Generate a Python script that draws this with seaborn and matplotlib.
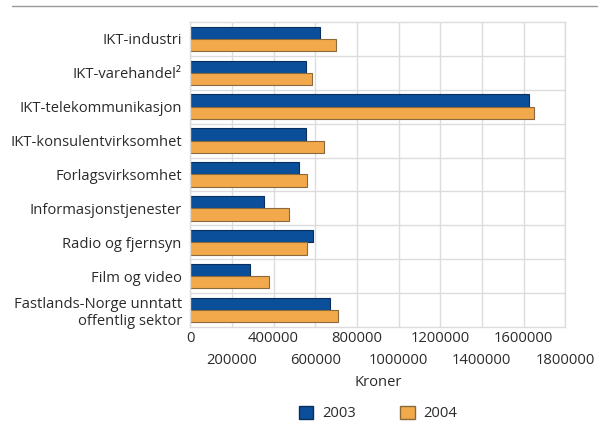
import matplotlib
matplotlib.use("Agg")
import matplotlib.pyplot as plt
import pandas as pd
import seaborn as sns
from matplotlib.patches import Patch

categories = [
    "IKT-industri",
    "IKT-varehandel²",
    "IKT-telekommunikasjon",
    "IKT-konsulentvirksomhet",
    "Forlagsvirksomhet",
    "Informasjonstjenester",
    "Radio og fjernsyn",
    "Film og video",
    "Fastlands-Norge unntatt\noffentlig sektor",
]
values_2003 = [623000, 556000, 1626000, 555000, 523000, 355000, 588000, 289000, 671000]
values_2004 = [700000, 587000, 1652000, 644000, 560000, 473000, 563000, 380000, 708000]
years = ["2003", "2004"]
upper_ticks = [0, 400000, 800000, 1200000, 1600000]
lower_ticks = [200000, 600000, 1000000, 1400000, 1800000]

sns.set_style("white")
plt.rcParams["font.family"] = ["Open Sans", "DejaVu Sans"]

df = pd.DataFrame({
    "kategori": categories * 2,
    "kroner": values_2003 + values_2004,
    "år": [years[0]] * len(categories) + [years[1]] * len(categories),
})

colors = {"2003": "#0b4f9b", "2004": "#f2a94c"}
edges = {"2003": "#0a2f5c", "2004": "#8a6a3a"}
fs = 10.6
txt = "#2a2a2a"

fig = plt.figure(figsize=(6.0, 4.22), dpi=100)
ax = fig.add_axes([0.317, 0.225, 0.625, 0.723])

sns.barplot(data=df, y="kategori", x="kroner", hue="år", palette=colors,
            orient="h", width=0.72, gap=0.0, saturation=1, legend=False, ax=ax)

for container, yr in zip(ax.containers, years):
    for bar in container:
        bar.set_edgecolor(edges[yr])
        bar.set_linewidth(0.8)

ax.set_xlim(0, 1800000)
ax.set_ylim(len(categories) - 0.5, -0.5)
ax.set_xticks(upper_ticks)
ax.set_xticklabels([str(v) for v in upper_ticks])
ax.set_xticks(lower_ticks, minor=True)
ax.set_xticklabels([str(v) for v in lower_ticks], minor=True)
ax.set_yticks(range(len(categories)))
ax.set_yticklabels(categories)
ax.tick_params(axis="both", which="both", length=0, labelsize=fs, colors=txt)
ax.tick_params(axis="x", which="major", pad=3)
ax.tick_params(axis="x", which="minor", pad=19)
ax.tick_params(axis="y", pad=6)
ax.set_xlabel("Kroner", fontsize=fs, color=txt, labelpad=5)
ax.set_ylabel("")

grid_c = "#dcdcdc"
ax.grid(axis="x", which="both", color=grid_c, linewidth=1.0)
for i in range(len(categories) - 1):
    ax.axhline(i + 0.5, color=grid_c, linewidth=1.0, zorder=0)
ax.set_axisbelow(True)
for s in ax.spines.values():
    s.set_color(grid_c)
    s.set_linewidth(1.0)

fig.add_artist(plt.Line2D([0.02, 0.995], [0.985, 0.985], color="#999999", linewidth=1.0))

handles = [Patch(facecolor=colors[y], edgecolor=edges[y], label=y) for y in years]
fig.legend(handles=handles, loc="lower center", bbox_to_anchor=(0.63, -0.03),
           ncol=2, frameon=False, fontsize=fs, handlelength=1.0, handleheight=1.0,
           columnspacing=3.0, handletextpad=0.6, labelcolor=txt)

fig.savefig("out.png", dpi=100)
